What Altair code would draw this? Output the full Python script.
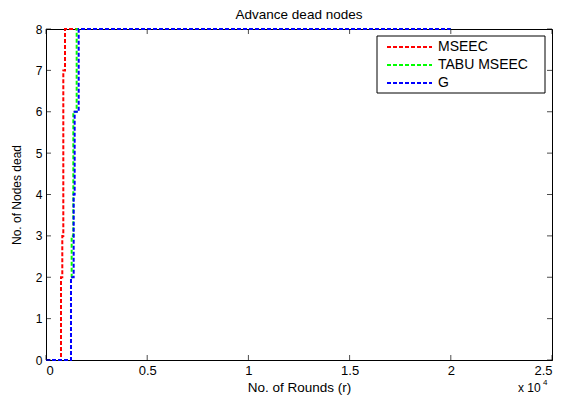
import altair as alt
import pandas as pd

series_names = ["MSEEC", "TABU MSEEC", "G"]
series_colors = ["#ff0000", "#00ff00", "#0000ff"]

mseec_rounds = [0, 741, 805, 855, 939, 20000]
mseec_dead = [0, 2, 3, 7, 8, 8]

tabu_rounds = [0, 1235, 1268, 1350, 1515, 20000]
tabu_dead = [0, 2, 3, 6, 8, 8]

g_rounds = [0, 1235, 1367, 1416, 1615, 20000]
g_dead = [0, 2, 4, 6, 8, 8]

x_ticks = [0, 5000, 10000, 15000, 20000, 25000]
y_ticks = [0, 1, 2, 3, 4, 5, 6, 7, 8]

rows = []
for name, rr, dd in [("MSEEC", mseec_rounds, mseec_dead),
                     ("TABU MSEEC", tabu_rounds, tabu_dead),
                     ("G", g_rounds, g_dead)]:
    for i, (r, d) in enumerate(zip(rr, dd)):
        rows.append({"series": name, "rounds": r, "dead": d, "i": i})
df = pd.DataFrame(rows)

W, H = 506, 331
FONT = "Liberation Sans"

xscale = alt.Scale(domain=[0, 25000], nice=False, zero=False)
yscale = alt.Scale(domain=[0, 8], nice=False, zero=False)
cscale = alt.Scale(domain=series_names, range=series_colors)

def line_layer(name):
    return alt.Chart(df).transform_filter(alt.datum.series == name).mark_line(
        interpolate="step-after", strokeWidth=2, strokeDash=[4, 2]
    ).encode(
        x=alt.X("rounds:Q", scale=xscale, axis=alt.Axis(
            values=x_ticks, labelExpr="datum.value/10000", title="No. of Rounds (r)",
            grid=False, tickSize=0, labelPadding=4, titlePadding=3,
            domainColor="black", labelColor="black", titleColor="black",
            labelFont=FONT, titleFont=FONT, labelFontSize=13, titleFontSize=13.5,
            titleFontWeight="normal")),
        y=alt.Y("dead:Q", scale=yscale, axis=alt.Axis(
            values=y_ticks, title="No. of Nodes dead", grid=False, tickSize=0,
            labelPadding=4, titlePadding=12,
            domainColor="black", labelColor="black", titleColor="black",
            labelFont=FONT, titleFont=FONT, labelFontSize=12, titleFontSize=12,
            titleFontWeight="normal")),
        color=alt.Color("series:N", scale=cscale, legend=None),
        order="i:Q",
    )

xt = pd.DataFrame({"v": x_ticks})
yt = pd.DataFrame({"v": y_ticks})

tick_bottom = alt.Chart(xt).mark_tick(color="black", thickness=1, size=5).encode(
    x=alt.X("v:Q", scale=xscale), y=alt.value(H - 2.5))
tick_top = alt.Chart(xt).mark_tick(color="black", thickness=1, size=5).encode(
    x=alt.X("v:Q", scale=xscale), y=alt.value(2.5))
tick_left = alt.Chart(yt).mark_tick(color="black", thickness=1, size=5, orient="horizontal").encode(
    y=alt.Y("v:Q", scale=yscale), x=alt.value(2.5))
tick_right = alt.Chart(yt).mark_tick(color="black", thickness=1, size=5, orient="horizontal").encode(
    y=alt.Y("v:Q", scale=yscale), x=alt.value(W - 2.5))

exp_text = alt.Chart(pd.DataFrame({"t": ["x 10"]})).mark_text(
    font=FONT, fontSize=12, align="left", baseline="middle", color="black"
).encode(text="t:N", x=alt.value(W - 34), y=alt.value(H + 28))
exp_sup = alt.Chart(pd.DataFrame({"t": ["4"]})).mark_text(
    font=FONT, fontSize=8, align="left", baseline="middle", color="black"
).encode(text="t:N", x=alt.value(W - 9), y=alt.value(H + 23))

main = alt.layer(
    line_layer("MSEEC"), line_layer("TABU MSEEC"), line_layer("G"),
    tick_bottom, tick_top, tick_left, tick_right, exp_text, exp_sup,
)

# legend box
leg_df = pd.DataFrame({"series": series_names, "idx": [0, 1, 2]})
leg_y = alt.Y("idx:O", scale=alt.Scale(type="point", domain=[0, 1, 2], range=[18, 54], padding=0), axis=None)

leg_box = alt.Chart(pd.DataFrame({"k": [0]})).mark_rect(
    fill="white", stroke="black", strokeWidth=1
).encode(x=alt.value(331), x2=alt.value(499), y=alt.value(7), y2=alt.value(64))
leg_rule = alt.Chart(leg_df).mark_rule(strokeWidth=2, strokeDash=[4, 2]).encode(
    x=alt.value(341), x2=alt.value(386), y=leg_y,
    color=alt.Color("series:N", scale=cscale, legend=None))
leg_text = alt.Chart(leg_df).mark_text(
    font=FONT, fontSize=14, align="left", baseline="middle", color="black"
).encode(x=alt.value(392), y=leg_y, text="series:N")

legend = alt.layer(leg_box, leg_rule, leg_text)

chart = alt.layer(main, legend).resolve_scale(y="independent").properties(
    width=W, height=H,
    title=alt.Title("Advance dead nodes", font=FONT, fontSize=13.5, fontWeight="normal",
                    color="black", offset=2, frame="group"),
    autosize=alt.AutoSizeParams(type="none"),
    padding={"left": 38, "top": 21, "right": 3, "bottom": 35},
    background="white",
).configure_view(stroke="black", strokeWidth=1)

chart.save("out.html", embed_options={"renderer": "svg", "actions": False})
